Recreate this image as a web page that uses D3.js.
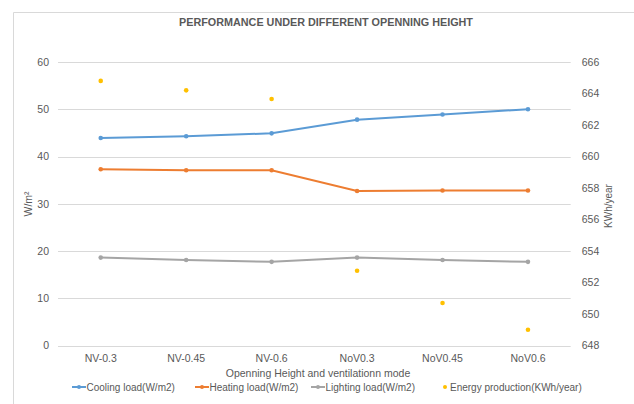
<!DOCTYPE html>
<html>
<head>
<meta charset="utf-8">
<script src="https://cdn.jsdelivr.net/npm/d3@7"></script>
<style>
  body { margin: 0; background: #fff; overflow: hidden; }
  svg { display: block; }
  svg text { font-family: "Liberation Sans", Arial, sans-serif; fill: #595959; }
</style>
</head>
<body>
<div class="canvas"></div>
<script>
const categories = ["NV-0.3", "NV-0.45", "NV-0.6", "NoV0.3", "NoV0.45", "NoV0.6"];
const coolingLoad = [43.9, 44.3, 44.9, 47.8, 48.9, 50.0];
const heatingLoad = [37.3, 37.1, 37.1, 32.7, 32.8, 32.8];
const lightingLoad = [18.6, 18.1, 17.7, 18.6, 18.1, 17.7];
const energyProduction = [664.8, 664.2, 663.65, 652.75, 650.7, 649.0];
const leftTicks = [0, 10, 20, 30, 40, 50, 60];
const rightTicks = [648, 650, 652, 654, 656, 658, 660, 662, 664, 666];

const width = 634;
const height = 404;
const margin = { top: 62, right: 63.3, bottom: 58.5, left: 58 };
const innerWidth = width - margin.left - margin.right;
const innerHeight = height - margin.top - margin.bottom;

const svg = d3
  .select(".canvas")
  .append("svg")
  .attr("width", width)
  .attr("height", height);

// chart frame, cut off at right and bottom like the source
svg
  .append("path")
  .attr("d", `M13.5,${height} V12.5 H${width}`)
  .attr("fill", "none")
  .attr("stroke", "#d9d9d9");

svg
  .append("text")
  .attr("x", 326)
  .attr("y", 26)
  .attr("text-anchor", "middle")
  .attr("font-size", 10.8)
  .attr("font-weight", "bold")
  .text("PERFORMANCE UNDER DIFFERENT OPENNING HEIGHT");

const g = svg
  .append("g")
  .attr("transform", `translate(${margin.left}, ${margin.top})`);

const x = d3.scaleBand().domain(categories).range([0, innerWidth]);
const yLeft = d3.scaleLinear().domain([0, 60]).range([innerHeight, 0]);
const yRight = d3.scaleLinear().domain([648, 666]).range([innerHeight, 0]);
const cx = (d, i) => x(categories[i]) + x.bandwidth() / 2;

// gridlines
g.selectAll(".grid")
  .data(leftTicks)
  .enter()
  .append("line")
  .attr("x1", 0)
  .attr("x2", innerWidth)
  .attr("y1", (d) => Math.round(yLeft(d)) + 0.5)
  .attr("y2", (d) => Math.round(yLeft(d)) + 0.5)
  .attr("stroke", "#d9d9d9")
  .attr("stroke-width", 1);

function styleAxis(sel) {
  sel.attr("fill", null).attr("font-family", null).attr("font-size", null);
  sel.select(".domain").remove();
  sel.selectAll(".tick line").remove();
  sel.selectAll("text").attr("font-size", 10.5).attr("fill", "#595959");
}

// left axis
g.append("g")
  .call(d3.axisLeft(yLeft).tickValues(leftTicks).tickSize(0).tickPadding(9))
  .call(styleAxis);

// right axis
g.append("g")
  .attr("transform", `translate(${innerWidth}, 0)`)
  .call(d3.axisRight(yRight).tickValues(rightTicks).tickSize(0).tickPadding(11))
  .call(styleAxis);

// bottom axis
g.append("g")
  .attr("transform", `translate(0, ${innerHeight})`)
  .call(d3.axisBottom(x).tickSize(0).tickPadding(9))
  .call(styleAxis);

// axis titles
svg
  .append("text")
  .attr("transform", "translate(32, 204) rotate(-90)")
  .attr("text-anchor", "middle")
  .attr("font-size", 10.5)
  .text("W/m²");

svg
  .append("text")
  .attr("transform", "translate(612, 206) rotate(-90)")
  .attr("text-anchor", "middle")
  .attr("font-size", 10)
  .text("KWh/year");

svg
  .append("text")
  .attr("x", 318)
  .attr("y", 377)
  .attr("text-anchor", "middle")
  .attr("font-size", 10.5)
  .text("Openning Height and ventilationn mode");

// line series
const series = [
  { name: "Cooling load(W/m2)", values: coolingLoad, color: "#5b9bd5" },
  { name: "Heating load(W/m2)", values: heatingLoad, color: "#ed7d31" },
  { name: "Lighting load(W/m2)", values: lightingLoad, color: "#a5a5a5" },
];

const line = d3
  .line()
  .x(cx)
  .y((d) => yLeft(d));

series.forEach((s) => {
  g.append("path")
    .datum(s.values)
    .attr("d", line)
    .attr("fill", "none")
    .attr("stroke", s.color)
    .attr("stroke-width", 2);

  g.selectAll(null)
    .data(s.values)
    .enter()
    .append("circle")
    .attr("cx", cx)
    .attr("cy", (d) => yLeft(d))
    .attr("r", 2.3)
    .attr("fill", s.color);
});

// energy production (secondary axis, markers only)
g.selectAll(".energy")
  .data(energyProduction)
  .enter()
  .append("circle")
  .attr("cx", cx)
  .attr("cy", (d) => yRight(d))
  .attr("r", 2.3)
  .attr("fill", "#ffc000");

// legend
const legendY = 387;
const legendItems = [
  { name: series[0].name, color: series[0].color, x: 72, line: true },
  { name: series[1].name, color: series[1].color, x: 195, line: true },
  { name: series[2].name, color: series[2].color, x: 311, line: true },
  { name: "Energy production(KWh/year)", color: "#ffc000", x: 438, line: false },
];

const legend = svg.append("g");
const item = legend
  .selectAll("g")
  .data(legendItems)
  .enter()
  .append("g")
  .attr("transform", (d) => `translate(${d.x}, ${legendY})`);

item
  .filter((d) => d.line)
  .append("line")
  .attr("x1", 0)
  .attr("x2", 14)
  .attr("stroke", (d) => d.color)
  .attr("stroke-width", 2);

item
  .append("circle")
  .attr("cx", 7)
  .attr("r", 2)
  .attr("fill", (d) => d.color);

item
  .append("text")
  .attr("x", (d) => (d.line ? 14.5 : 12))
  .attr("dy", "0.35em")
  .attr("font-size", 10)
  .text((d) => d.name);
</script>
</body>
</html>
